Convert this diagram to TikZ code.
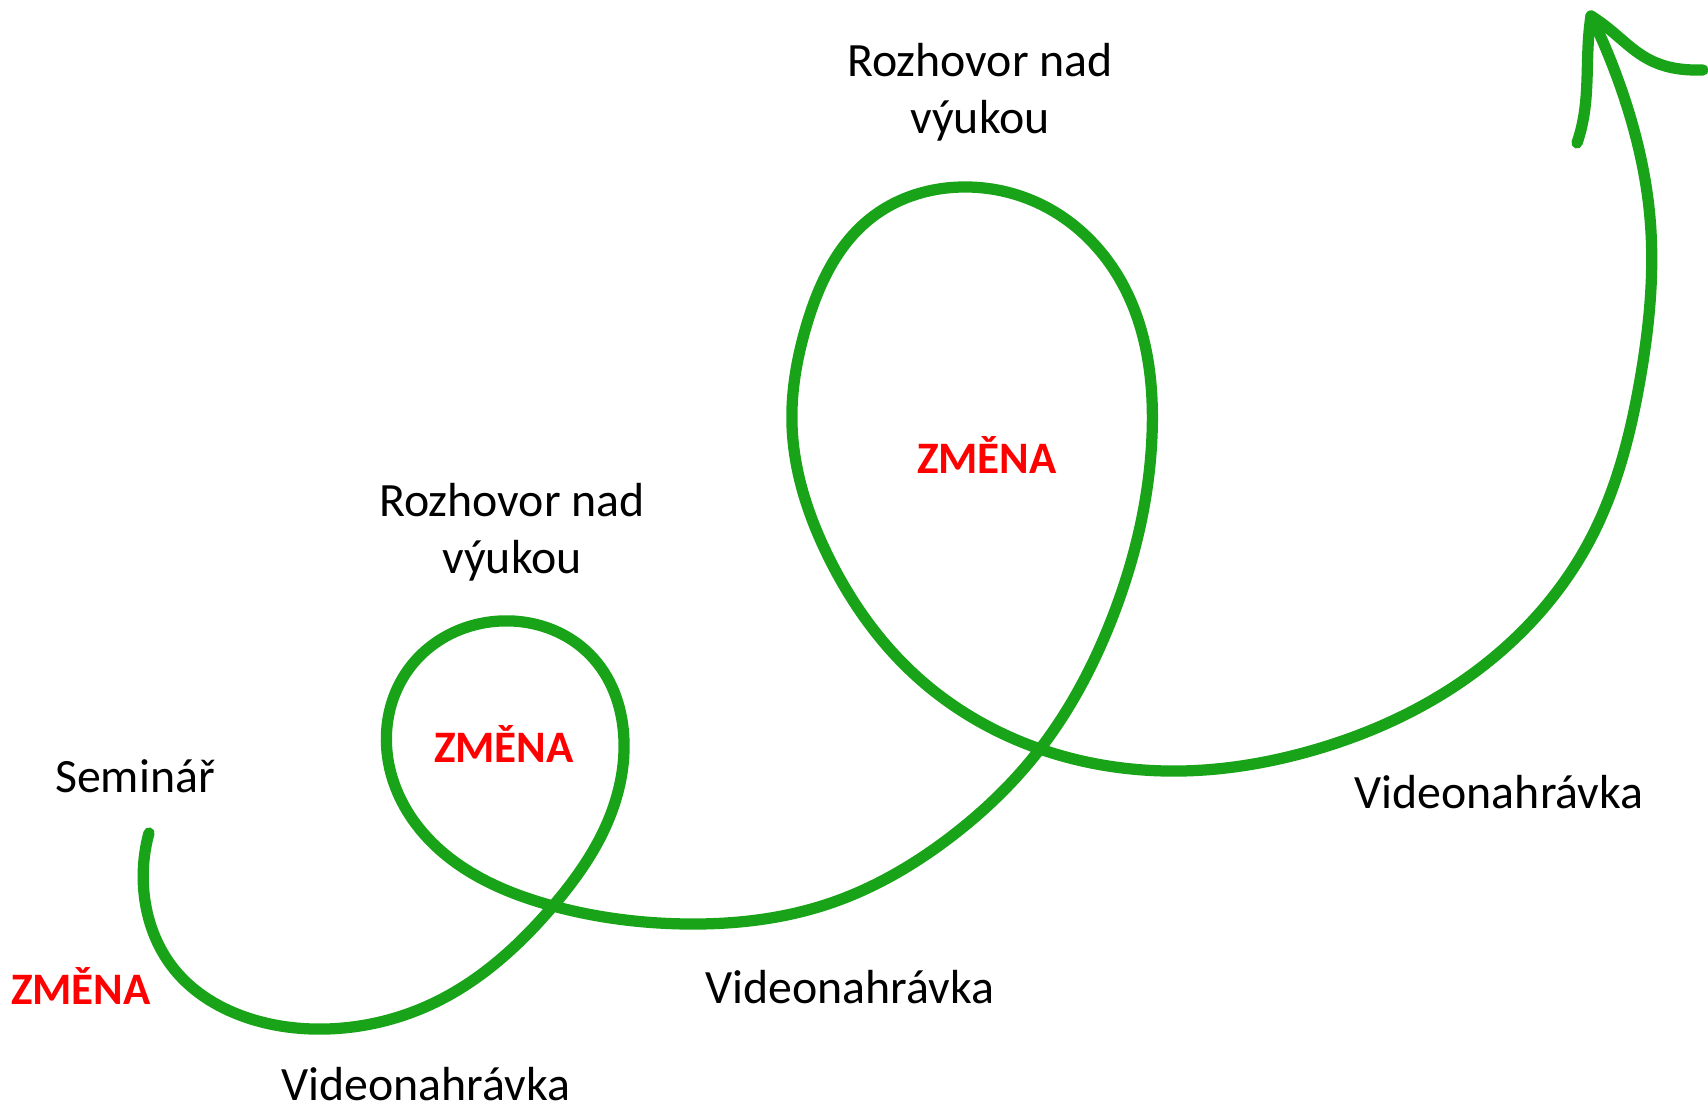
\documentclass[tikz,border=0pt]{standalone}
\usepackage{fontspec}
\setmainfont{Carlito}
\usetikzlibrary{hobby}
\definecolor{vine}{RGB}{24,163,24}
\definecolor{zred}{RGB}{255,0,0}
\tikzset{
  vinepath/.style={draw=vine, line width=3.2pt, line cap=round, line join=round},
  steplabel/.style={align=center, font=\fontsize{13.6}{16.2}\selectfont, inner sep=0pt},
  changelabel/.style={text=zred, font=\fontsize{12.8}{15}\selectfont\bfseries, inner sep=0pt}
}
\begin{document}
\begin{tikzpicture}[x=0.01cm, y=-0.01cm]
    \useasboundingbox (0,0) rectangle (1708,1104);

    % Spiral path
    \draw[vinepath, use Hobby shortcut] (149,833) .. (144,893) .. (174,969)
        .. (251,1019) .. (327,1029) .. (436,1002) .. (553,906) .. (605,828)
        .. (624,741) .. (594,659) .. (501,621) .. (408,670) .. (387,752)
        .. (419,828) .. (553,906) .. (686,924) .. (828,904) .. (948,839)
        .. (1040,749) .. (1111,621) .. (1152,436) .. (1122,283) .. (1046,207)
        .. (967,187) .. (871,218) .. (806,327) .. (792,425) .. (828,556)
        .. (915,675) .. (1040,749) .. (1182,771) .. (1307,752) .. (1471,675)
        .. (1590,540) .. (1640,380) .. (1650,218) .. (1625,100) .. (1591,16);

    % Arrow head
    \coordinate (tip) at (1591,16);
    \draw[vinepath] (tip) .. controls (1584,60) and (1592,100) .. (1577,143);
    \draw[vinepath] (tip) .. controls (1630,40) and (1640,72) .. (1703,70);

    % Labels
    \node[steplabel] (seminar) at (135,776) {Seminář};
    \node[changelabel] (change1) at (81,986) {ZMĚNA};
    \node[changelabel] (change2) at (504,744) {ZMĚNA};
    \node[changelabel] (change3) at (987,455) {ZMĚNA};
    \node[steplabel] (talk1) at (512,532) {Rozhovor nad\\výukou};
    \node[steplabel] (talk2) at (980,92) {Rozhovor nad\\výukou};
    \foreach \name/\x/\y in {video1/426/1084, video2/850/987, video3/1499/792} {
        \node[steplabel] (\name) at (\x,\y) {Videonahrávka};
    }
\end{tikzpicture}
\end{document}
